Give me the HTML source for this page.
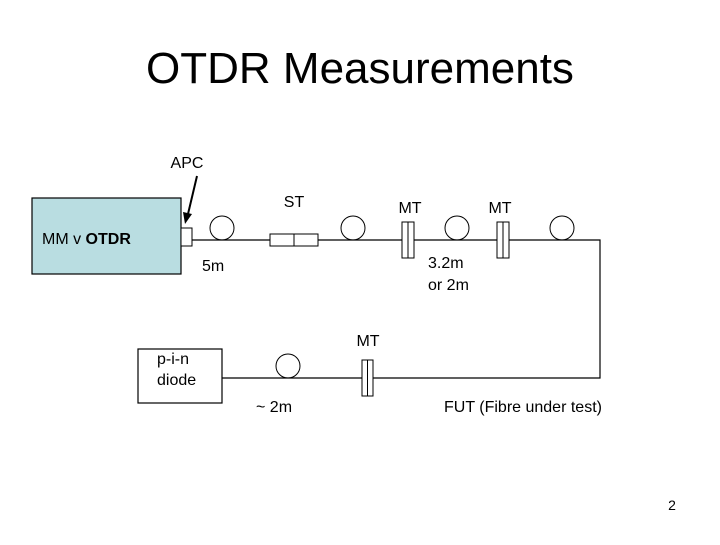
<!DOCTYPE html>
<html><head><style>
body{margin:0;background:#fff}
svg text{font-family:"Liberation Sans",Arial,sans-serif;fill:#000}
</style></head><body>
<svg width="720" height="540" viewBox="0 0 720 540" xmlns="http://www.w3.org/2000/svg">
<text x="360" y="83" font-size="44" text-anchor="middle">OTDR  Measurements</text>
<rect x="32" y="198" width="149" height="76" fill="#b9dde1" stroke="#000" stroke-width="1.2"/>
<text x="42" y="244" font-size="16">MM v <tspan font-weight="bold">OTDR</tspan></text>
<rect x="181" y="228" width="11" height="18" fill="#fff" stroke="#000"/>
<text x="187" y="168" font-size="16" text-anchor="middle">APC</text>
<line x1="197" y1="176" x2="188" y2="214" stroke="#000" stroke-width="2"/>
<polygon points="185,224 183,212 192,214" fill="#000"/>
<polyline points="192,240 600,240 600,378 222,378" fill="none" stroke="#000" stroke-width="1.2"/>
<g fill="none" stroke="#000">
<circle cx="222" cy="228" r="12"/>
<circle cx="353" cy="228" r="12"/>
<circle cx="457" cy="228" r="12"/>
<circle cx="562" cy="228" r="12"/>
<circle cx="288" cy="366" r="12"/>
</g>
<rect x="270" y="234" width="48" height="12" fill="#fff" stroke="#000"/>
<line x1="294" y1="234" x2="294" y2="246" stroke="#000"/>
<g fill="#fff" stroke="#000">
<rect x="402" y="222" width="12" height="36"/><line x1="408" y1="222" x2="408" y2="258"/>
<rect x="497" y="222" width="12" height="36"/><line x1="503" y1="222" x2="503" y2="258"/>
<rect x="362" y="360" width="11" height="36"/><line x1="367.5" y1="360" x2="367.5" y2="396"/>
</g>
<rect x="138" y="349" width="84" height="54" fill="#fff" stroke="#000" stroke-width="1.2"/>
<text x="157" y="364" font-size="16">p-i-n</text>
<text x="157" y="385" font-size="16">diode</text>
<text x="294" y="207" font-size="16" text-anchor="middle">ST</text>
<text x="410" y="213" font-size="16" text-anchor="middle">MT</text>
<text x="500" y="213" font-size="16" text-anchor="middle">MT</text>
<text x="368" y="346" font-size="16" text-anchor="middle">MT</text>
<text x="202" y="271" font-size="16">5m</text>
<text x="428" y="268" font-size="16">3.2m</text>
<text x="428" y="290" font-size="16">or 2m</text>
<text x="256" y="412" font-size="16">~ 2m</text>
<text x="444" y="412" font-size="16">FUT (Fibre under test)</text>
<text x="672" y="510" font-size="14" text-anchor="middle">2</text>
</svg>
</body></html>
